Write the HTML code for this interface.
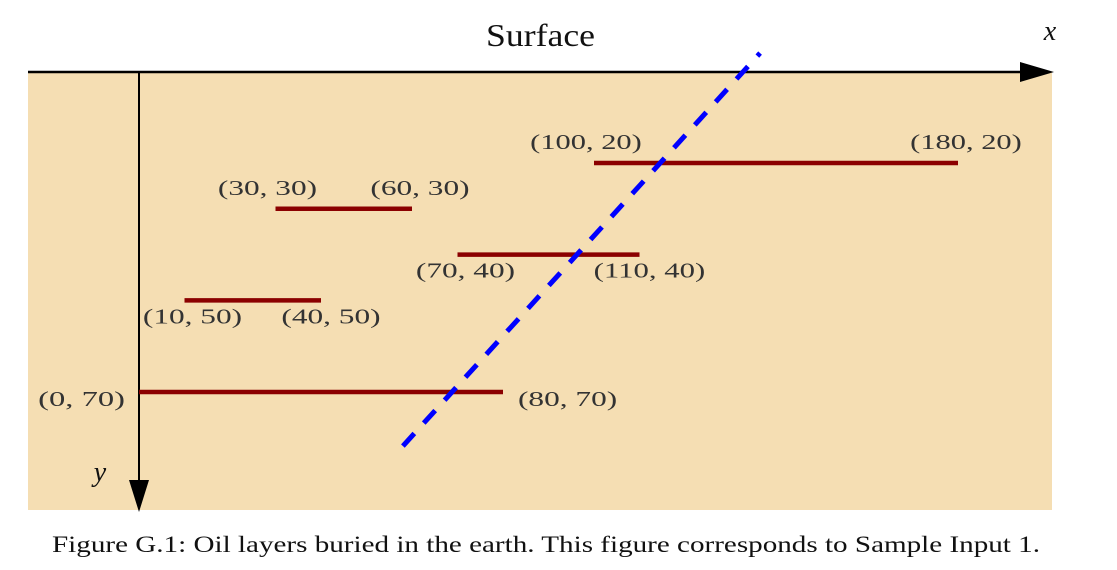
<!DOCTYPE html>
<html><head><meta charset="utf-8"><style>
html,body{margin:0;padding:0;background:#fff;width:1117px;height:570px;overflow:hidden}
svg text{font-family:"Liberation Serif",serif}
</style></head><body>
<svg width="1117" height="570">
<rect x="28" y="72" width="1024" height="438" fill="#f5deb3"/>
<text x="486" y="46" font-size="32" textLength="109" lengthAdjust="spacingAndGlyphs" fill="#111">Surface</text>
<text x="1050" y="40" font-size="28" font-style="italic" text-anchor="middle" fill="#111">x</text>
<text x="100" y="481" font-size="28" font-style="italic" text-anchor="middle" fill="#111">y</text>
<line x1="28" y1="72" x2="1025" y2="72" stroke="#000" stroke-width="2.5"/>
<polygon points="1020,62 1054,72 1020,82" fill="#000"/>
<line x1="139" y1="72" x2="139" y2="485" stroke="#000" stroke-width="2"/>
<polygon points="129,480 139,512 149,480" fill="#000"/>
<g id="layers"></g>
<text x="52" y="552" font-size="23" textLength="988" lengthAdjust="spacingAndGlyphs" fill="#111">Figure G.1: Oil layers buried in the earth. This figure corresponds to Sample Input 1.</text>
</svg>
<script>
const layerX1=[0,10,30,70,100];
const layerX2=[80,40,60,110,180];
const layerY=[70,50,30,40,20];
const leftPos=['left','below','above','below','above'];
const rightPos=['right','below','above','below','above'];
const cutLineX=[58,136.5];
const cutLineY=[81.8,-4];
const sx=v=>139+v*4.55;
const sy=v=>71.4+v*4.58;
const NS='http://www.w3.org/2000/svg';
const g=document.getElementById('layers');
function label(x,y,pos,txt,isLeft){
  const t=document.createElementNS(NS,'text');
  const w=txt.length*12.4;
  let left,ty;
  if(pos==='above'){left=x+(isLeft?-8:8)-w/2;ty=y-14;}
  else if(pos==='below'){left=x+(isLeft?8:10)-w/2;ty=y+23;}
  else if(pos==='left'){left=x-14-w;ty=y+14;}
  else {left=x+15;ty=y+14;}
  t.setAttribute('x',left);t.setAttribute('y',ty);
  t.setAttribute('font-size','21');
  t.setAttribute('textLength',w);t.setAttribute('lengthAdjust','spacingAndGlyphs');
  t.setAttribute('fill','#333');
  t.textContent=txt;
  
  
  g.appendChild(t);
}
for(let i=0;i<layerY.length;i++){
  const l=document.createElementNS(NS,'line');
  l.setAttribute('x1',sx(layerX1[i]));l.setAttribute('x2',sx(layerX2[i]));
  l.setAttribute('y1',sy(layerY[i]));l.setAttribute('y2',sy(layerY[i]));
  l.setAttribute('stroke','#8b0000');l.setAttribute('stroke-width','4.5');
  
  
  g.appendChild(l);
  label(sx(layerX1[i]),sy(layerY[i]),leftPos[i],'('+layerX1[i]+', '+layerY[i]+')',true);
  label(sx(layerX2[i]),sy(layerY[i]),rightPos[i],'('+layerX2[i]+', '+layerY[i]+')',false);
}
const d=document.createElementNS(NS,'line');
d.setAttribute('x1',sx(cutLineX[0]));d.setAttribute('y1',sy(cutLineY[0]));
d.setAttribute('x2',sx(cutLineX[1]));d.setAttribute('y2',sy(cutLineY[1]));
d.setAttribute('stroke','#0000ff');d.setAttribute('stroke-width','5');
d.setAttribute('stroke-dasharray','17 14');


g.appendChild(d);
</script>
</body></html>
